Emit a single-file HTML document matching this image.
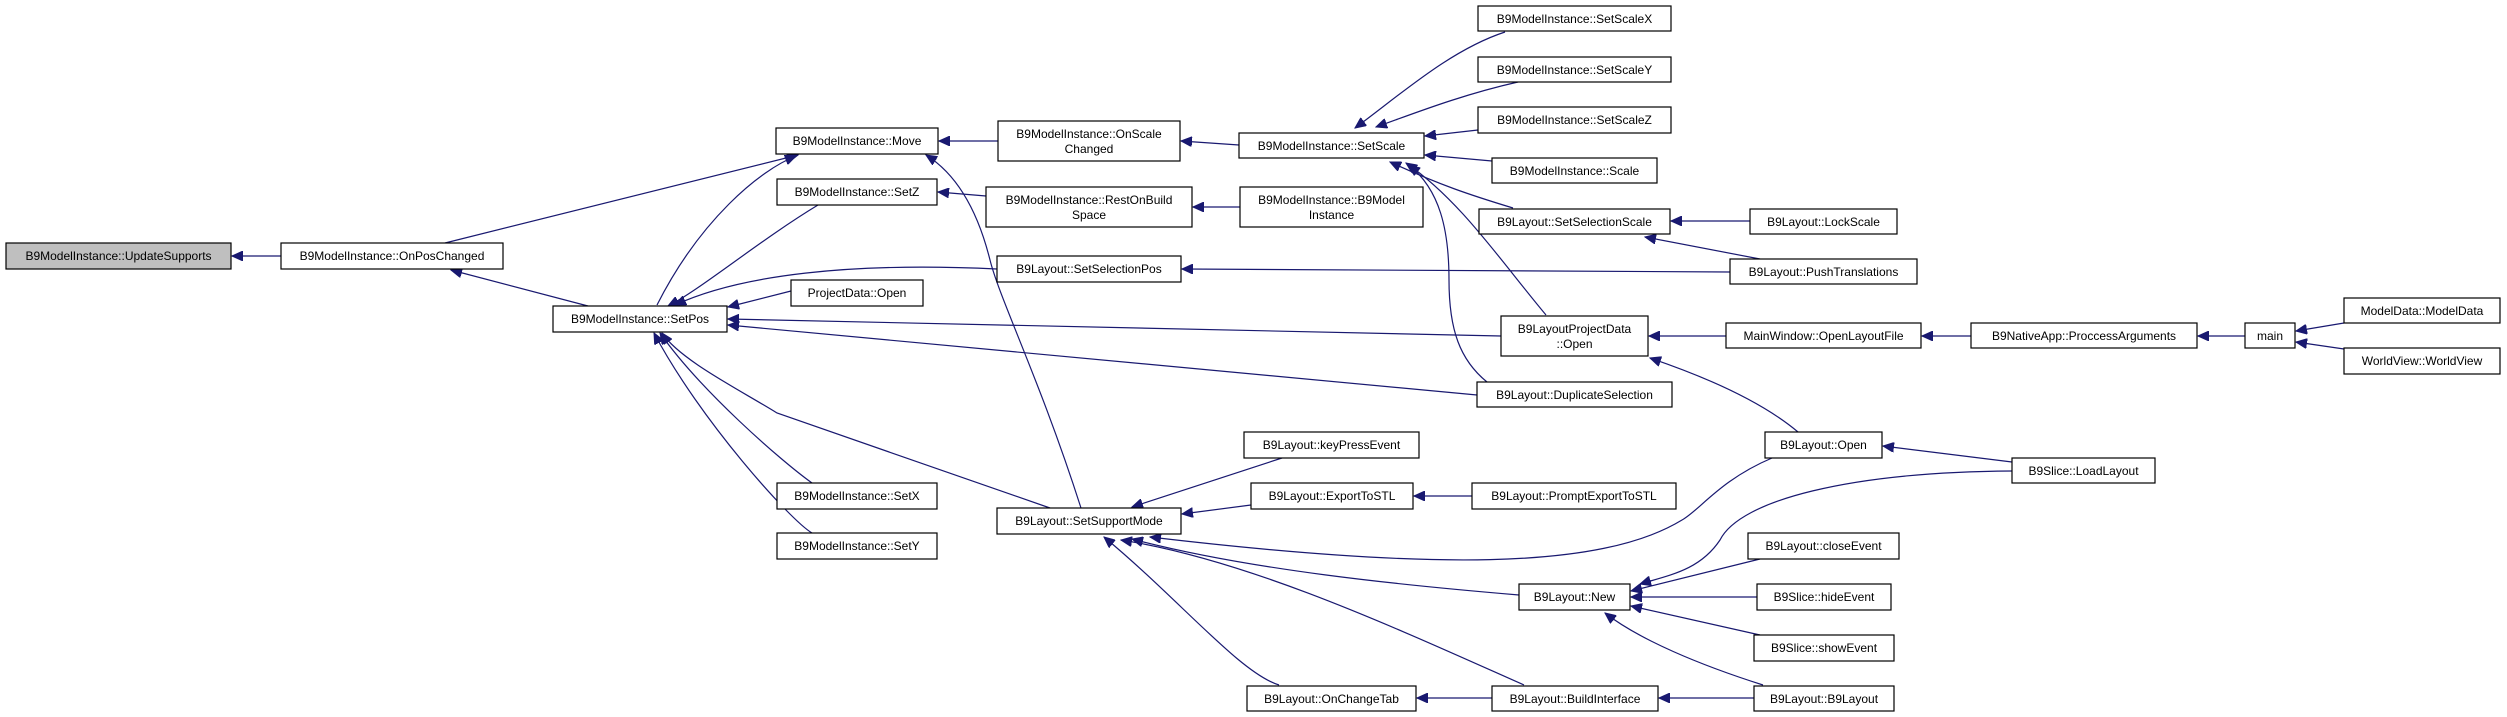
<!DOCTYPE html>
<html><head><meta charset="utf-8"><style>
html,body{margin:0;padding:0;background:#fff;}
svg{display:block;}
text{font-family:"Liberation Sans",Arial,sans-serif;font-size:12px;fill:#000;text-anchor:middle;}
.n{fill:#fff;stroke:#000;stroke-width:1.2;}
.e{fill:none;stroke:#191970;stroke-width:1.2;}
</style></head><body>
<svg width="2507" height="717" viewBox="0 0 2507 717" xmlns="http://www.w3.org/2000/svg">
<defs>
<marker id="a" markerUnits="userSpaceOnUse" markerWidth="12" markerHeight="10" refX="11" refY="5" orient="auto">
<path d="M0,0 L11,5 L0,10 z" fill="#191970" stroke="#191970"/>
</marker>
</defs>
<g marker-end="url(#a)">
<path class="e" d="M281,256 L232,256"/>
<path class="e" d="M445,243 L798,155"/>
<path class="e" d="M588,306 L451,270"/>
<path class="e" d="M657,305 C700,220 760,170 796,156"/>
<path class="e" d="M818,205 C760,240 700,290 668,306"/>
<path class="e" d="M997,269 C850,262 740,275 675,305"/>
<path class="e" d="M791,291 L728,307"/>
<path class="e" d="M1501,336 L728,319"/>
<path class="e" d="M1477,395 L728,325"/>
<path class="e" d="M812,483 C780,460 700,390 660,333"/>
<path class="e" d="M812,533 C790,520 700,420 654,333"/>
<path class="e" d="M1050,508 L777,413 C740,390 680,360 662,333"/>
<path class="e" d="M1081,508 C1040,380 1000,300 990,260 C975,200 950,170 926,155"/>
<path class="e" d="M998,141 L939,141"/>
<path class="e" d="M1239,145 L1181,141"/>
<path class="e" d="M986,196 L938,192"/>
<path class="e" d="M1240,207 L1193,207"/>
<path class="e" d="M1730,272 L1182,269"/>
<path class="e" d="M1505,32 C1450,50 1400,95 1355,128"/>
<path class="e" d="M1518,82 C1460,95 1410,115 1376,127"/>
<path class="e" d="M1478,130 L1425,136"/>
<path class="e" d="M1492,161 L1425,155"/>
<path class="e" d="M1513,208 C1470,195 1440,185 1390,162"/>
<path class="e" d="M1546,315 C1500,260 1460,200 1406,163"/>
<path class="e" d="M1487,382 C1460,360 1449,330 1449,280 C1449,230 1440,190 1409,165"/>
<path class="e" d="M1750,221 L1671,221"/>
<path class="e" d="M1760,259 L1645,237"/>
<path class="e" d="M1726,336 L1649,336"/>
<path class="e" d="M1798,432 C1760,400 1700,375 1650,358"/>
<path class="e" d="M1971,336 L1922,336"/>
<path class="e" d="M2245,336 L2198,336"/>
<path class="e" d="M2344,323 L2296,331"/>
<path class="e" d="M2344,349 L2296,342"/>
<path class="e" d="M2012,462 L1883,446"/>
<path class="e" d="M1282,458 L1132,507"/>
<path class="e" d="M1251,505 L1182,514"/>
<path class="e" d="M1472,496 L1414,496"/>
<path class="e" d="M1772,458 C1720,480 1700,510 1682,520 C1600,570 1430,570 1150,537"/>
<path class="e" d="M1519,595 C1400,585 1250,570 1132,539"/>
<path class="e" d="M1524,685 C1400,630 1250,560 1121,540"/>
<path class="e" d="M1279,685 C1240,673 1180,600 1104,537"/>
<path class="e" d="M2012,471 C1850,472 1740,500 1720,540 C1700,570 1670,575 1640,584"/>
<path class="e" d="M1760,559 L1631,591"/>
<path class="e" d="M1757,597 L1631,597"/>
<path class="e" d="M1760,635 L1631,606"/>
<path class="e" d="M1763,685 C1700,665 1640,640 1605,613"/>
<path class="e" d="M1492,698 L1417,698"/>
<path class="e" d="M1754,698 L1659,698"/>
</g>
<rect x="6" y="243" width="225" height="26" fill="#bfbfbf" stroke="#000" stroke-width="1.2"/><text x="118.5" y="260">B9ModelInstance::UpdateSupports</text>
<rect class="n" x="281" y="243" width="222" height="26"/><text x="392" y="260">B9ModelInstance::OnPosChanged</text>
<rect class="n" x="776" y="128" width="162" height="26"/><text x="857" y="145">B9ModelInstance::Move</text>
<rect class="n" x="777" y="179" width="160" height="26"/><text x="857" y="196">B9ModelInstance::SetZ</text>
<rect class="n" x="791" y="280" width="132" height="26"/><text x="857" y="297">ProjectData::Open</text>
<rect class="n" x="553" y="306" width="174" height="26"/><text x="640" y="323">B9ModelInstance::SetPos</text>
<rect class="n" x="777" y="483" width="160" height="26"/><text x="857" y="500">B9ModelInstance::SetX</text>
<rect class="n" x="777" y="533" width="160" height="26"/><text x="857" y="550">B9ModelInstance::SetY</text>
<rect class="n" x="998" y="121" width="182" height="40"/><text x="1089" y="138">B9ModelInstance::OnScale</text><text x="1089" y="153">Changed</text>
<rect class="n" x="986" y="187" width="206" height="40"/><text x="1089" y="204">B9ModelInstance::RestOnBuild</text><text x="1089" y="219">Space</text>
<rect class="n" x="997" y="256" width="184" height="26"/><text x="1089" y="273">B9Layout::SetSelectionPos</text>
<rect class="n" x="997" y="508" width="184" height="26"/><text x="1089" y="525">B9Layout::SetSupportMode</text>
<rect class="n" x="1239" y="133" width="185" height="25"/><text x="1331.5" y="150">B9ModelInstance::SetScale</text>
<rect class="n" x="1240" y="187" width="183" height="40"/><text x="1331.5" y="204">B9ModelInstance::B9Model</text><text x="1331.5" y="219">Instance</text>
<rect class="n" x="1244" y="432" width="175" height="26"/><text x="1331.5" y="449">B9Layout::keyPressEvent</text>
<rect class="n" x="1251" y="483" width="162" height="26"/><text x="1332" y="500">B9Layout::ExportToSTL</text>
<rect class="n" x="1247" y="686" width="169" height="25"/><text x="1331.5" y="703">B9Layout::OnChangeTab</text>
<rect class="n" x="1478" y="6" width="193" height="25"/><text x="1574.5" y="23">B9ModelInstance::SetScaleX</text>
<rect class="n" x="1478" y="57" width="193" height="25"/><text x="1574.5" y="74">B9ModelInstance::SetScaleY</text>
<rect class="n" x="1478" y="107" width="193" height="26"/><text x="1574.5" y="124">B9ModelInstance::SetScaleZ</text>
<rect class="n" x="1492" y="158" width="165" height="25"/><text x="1574.5" y="175">B9ModelInstance::Scale</text>
<rect class="n" x="1479" y="209" width="191" height="25"/><text x="1574.5" y="226">B9Layout::SetSelectionScale</text>
<rect class="n" x="1501" y="316" width="147" height="40"/><text x="1574.5" y="333">B9LayoutProjectData</text><text x="1574.5" y="348">::Open</text>
<rect class="n" x="1477" y="382" width="195" height="25"/><text x="1574.5" y="399">B9Layout::DuplicateSelection</text>
<rect class="n" x="1472" y="483" width="204" height="26"/><text x="1574" y="500">B9Layout::PromptExportToSTL</text>
<rect class="n" x="1519" y="584" width="111" height="26"/><text x="1574.5" y="601">B9Layout::New</text>
<rect class="n" x="1492" y="686" width="166" height="25"/><text x="1575" y="703">B9Layout::BuildInterface</text>
<rect class="n" x="1750" y="209" width="147" height="25"/><text x="1823.5" y="226">B9Layout::LockScale</text>
<rect class="n" x="1730" y="259" width="187" height="25"/><text x="1823.5" y="276">B9Layout::PushTranslations</text>
<rect class="n" x="1726" y="323" width="195" height="25"/><text x="1823.5" y="340">MainWindow::OpenLayoutFile</text>
<rect class="n" x="1765" y="432" width="117" height="26"/><text x="1823.5" y="449">B9Layout::Open</text>
<rect class="n" x="1748" y="533" width="151" height="26"/><text x="1823.5" y="550">B9Layout::closeEvent</text>
<rect class="n" x="1757" y="584" width="134" height="26"/><text x="1824" y="601">B9Slice::hideEvent</text>
<rect class="n" x="1754" y="635" width="140" height="26"/><text x="1824" y="652">B9Slice::showEvent</text>
<rect class="n" x="1754" y="686" width="140" height="25"/><text x="1824" y="703">B9Layout::B9Layout</text>
<rect class="n" x="1971" y="323" width="226" height="25"/><text x="2084" y="340">B9NativeApp::ProccessArguments</text>
<rect class="n" x="2012" y="458" width="143" height="25"/><text x="2083.5" y="475">B9Slice::LoadLayout</text>
<rect class="n" x="2245" y="323" width="50" height="25"/><text x="2270" y="340">main</text>
<rect class="n" x="2344" y="298" width="156" height="25"/><text x="2422" y="315">ModelData::ModelData</text>
<rect class="n" x="2344" y="348" width="156" height="26"/><text x="2422" y="365">WorldView::WorldView</text>
</svg>
</body></html>
